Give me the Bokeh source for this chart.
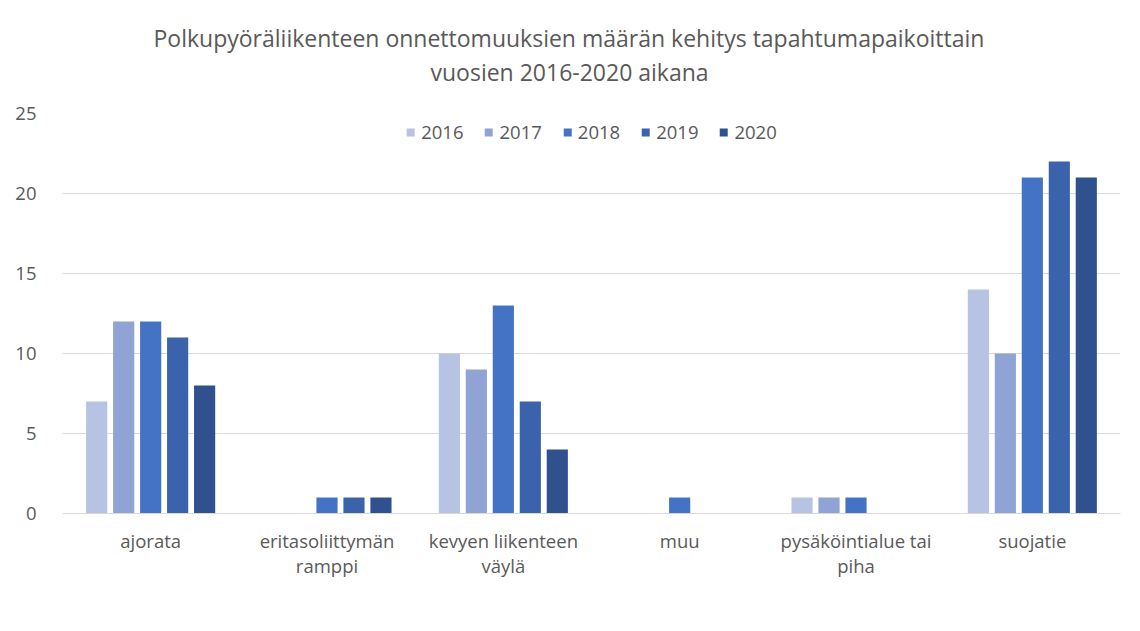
from bokeh.plotting import figure
from bokeh.models import FactorRange, Range1d, Legend, LegendItem, Title, ColumnDataSource
from bokeh.transform import dodge
from bokeh.embed import file_html
from bokeh.resources import INLINE

title_lines = ["Polkupyöräliikenteen onnettomuuksien määrän kehitys tapahtumapaikoittain",
               "vuosien 2016-2020 aikana"]
categories = ["ajorata", "eritasoliittymän\nramppi", "kevyen liikenteen\nväylä", "muu",
              "pysäköintialue tai\npiha", "suojatie"]
years = ["2016", "2017", "2018", "2019", "2020"]
v2016 = [7, 0, 10, 0, 1, 14]
v2017 = [12, 0, 9, 0, 1, 10]
v2018 = [12, 1, 13, 1, 1, 21]
v2019 = [11, 1, 7, 0, 0, 22]
v2020 = [8, 1, 4, 0, 0, 21]
colors = ["#B7C3E3", "#8FA3D5", "#4472C4", "#3A63AB", "#2F528F"]
y_ticks = [0, 5, 10, 15, 20, 25]

FONT = "Open Sans"
TXT = "#595959"
FS = "18.5px"

src = ColumnDataSource(dict(cat=categories, v2016=v2016, v2017=v2017, v2018=v2018,
                            v2019=v2019, v2020=v2020))

p = figure(x_range=FactorRange(*categories, range_padding=0, factor_padding=0),
           y_range=Range1d(0, 25), frame_width=1058, frame_height=400,
           output_backend="svg", toolbar_location=None,
           min_border_left=62, min_border_right=10, min_border_top=113, min_border_bottom=10)

# spacer, then second title line, then first (later-added titles sit farther out)
p.add_layout(Title(text=" ", standoff=23, text_font_size="1px"), "above")
p.add_layout(Title(text=title_lines[1], align="left", offset=368, standoff=0,
                   text_font=FONT, text_font_size="23px", text_color=TXT,
                   text_font_style="normal"), "above")
p.add_layout(Title(text=title_lines[0], align="left", offset=91, standoff=0,
                   text_font=FONT, text_font_size="23px", text_color=TXT,
                   text_font_style="normal"), "above")

step = 0.153
items = []
for i, (yr, col) in enumerate(zip(years, colors)):
    r = p.vbar(x=dodge("cat", (i - 2) * step, range=p.x_range), top="v" + yr, width=0.12,
               source=src, fill_color=col, line_color=None)
    items.append(LegendItem(label=yr, renderers=[r]))

legend = Legend(items=items, orientation="horizontal", location="top_center",
                label_text_font=FONT, label_text_font_size=FS, label_text_color=TXT,
                glyph_width=10, glyph_height=10, spacing=20, label_standoff=6,
                border_line_color=None, background_fill_alpha=0, padding=0, margin=6)
p.add_layout(legend, "center")

p.outline_line_color = None
p.xgrid.grid_line_color = None
p.ygrid.grid_line_color = "#D9D9D9"
p.ygrid.grid_line_width = 1
p.yaxis.ticker = y_ticks
p.yaxis.axis_line_color = None
p.yaxis.major_tick_line_color = None
p.yaxis.minor_tick_line_color = None
p.yaxis.major_label_text_font = FONT
p.yaxis.major_label_text_font_size = FS
p.yaxis.major_label_text_color = TXT
p.yaxis.major_label_standoff = 20
p.xaxis.axis_line_color = "#D9D9D9"
p.xaxis.axis_line_width = 1
p.xaxis.major_tick_line_color = None
p.xaxis.minor_tick_line_color = None
p.xaxis.major_label_text_font = FONT
p.xaxis.major_label_text_font_size = FS
p.xaxis.major_label_text_color = TXT
p.xaxis.major_label_text_line_height = 1.0
p.xaxis.major_label_standoff = 8

open("out.html", "w").write(file_html(p, INLINE))
